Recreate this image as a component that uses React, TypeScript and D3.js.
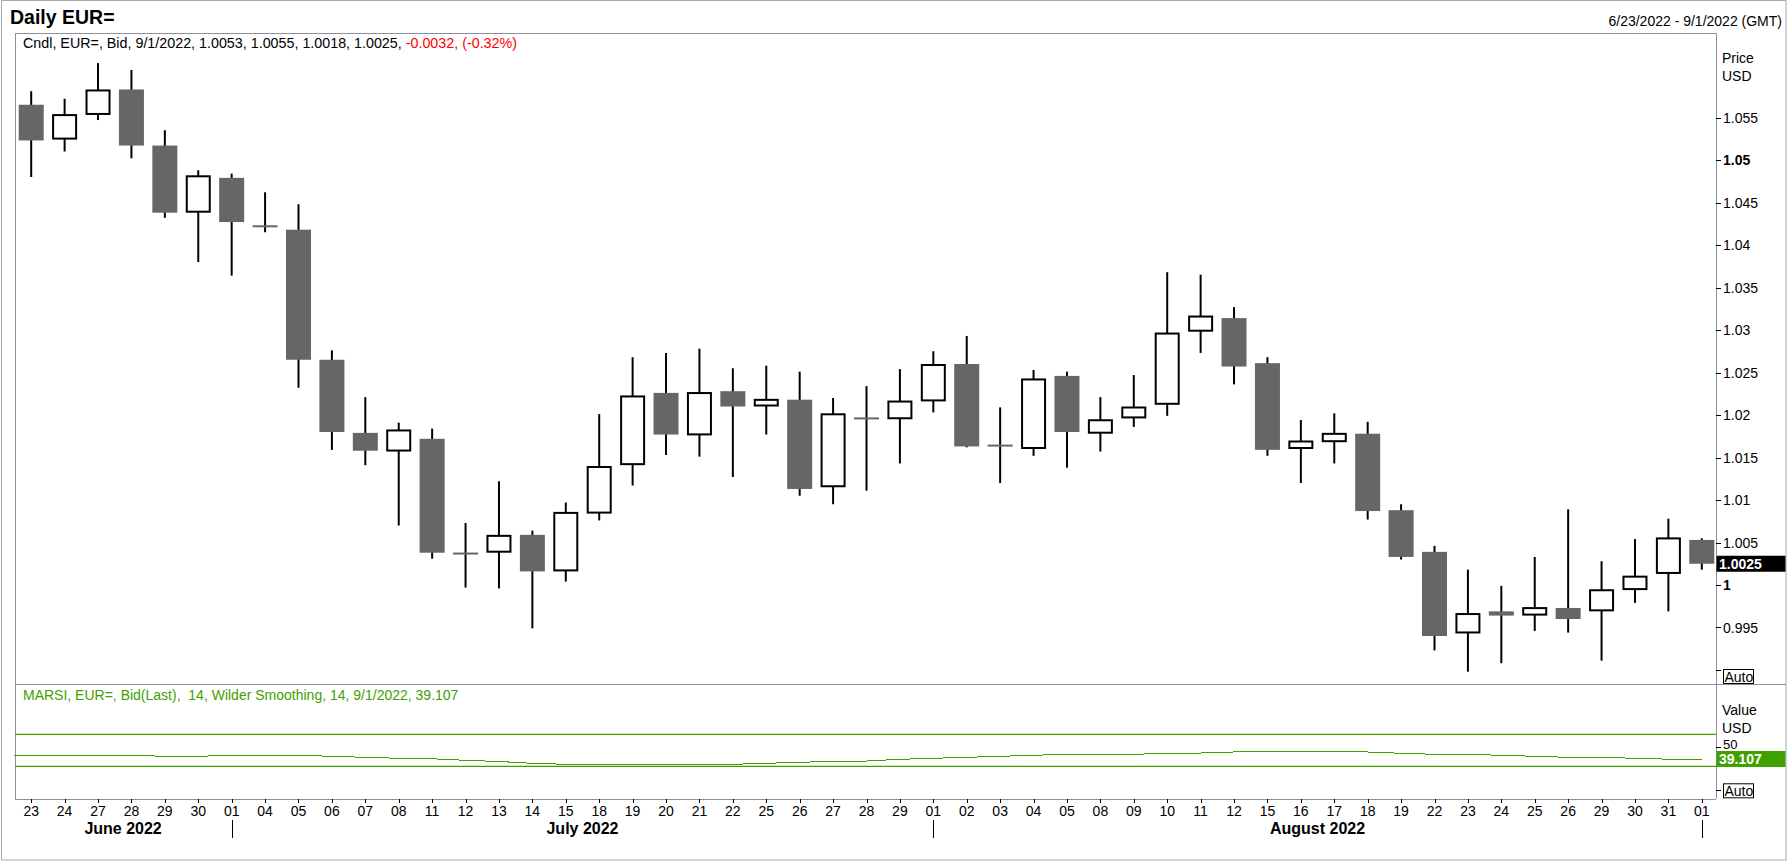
import React from "react";
import * as d3 from "d3";

const dayLabels = ["23","24","27","28","29","30","01","04","05","06","07","08","11","12","13","14","15","18","19","20","21","22","25","26","27","28","29","01","02","03","04","05","08","09","10","11","12","15","16","17","18","19","22","23","24","25","26","29","30","31","01"];
const monthLabels = ["June 2022", "July 2022", "August 2022"];

const opens = [1.0565,1.0524,1.0553,1.0583,1.0517,1.0438,1.0479,1.0422,1.0418,1.0265,1.0179,1.0157,1.0172,1.0037,1.0038,1.0059,1.0016,1.0084,1.0141,1.0226,1.0176,1.0228,1.0210,1.0218,1.0115,1.0196,1.0195,1.0216,1.0260,1.0164,1.0160,1.0246,1.0178,1.0196,1.0212,1.0298,1.0314,1.0261,1.0160,1.0168,1.0178,1.0088,1.0039,0.9943,0.9969,0.9964,0.9973,0.9969,0.9994,1.0013,1.0053];
const highs = [1.0581,1.0572,1.0614,1.0606,1.0535,1.0488,1.0484,1.0462,1.0448,1.0276,1.0221,1.0191,1.0184,1.0073,1.0122,1.0064,1.0097,1.0201,1.0268,1.0273,1.0278,1.0255,1.0258,1.0251,1.0220,1.0234,1.0254,1.0275,1.0293,1.0209,1.0253,1.0251,1.0221,1.0247,1.0368,1.0365,1.0327,1.0268,1.0194,1.0202,1.0192,1.0095,1.0046,1.0018,0.9999,1.0033,1.0089,1.0028,1.0054,1.0078,1.0055];
const lows = [1.0480,1.0510,1.0547,1.0502,1.0432,1.0380,1.0364,1.0415,1.0232,1.0159,1.0141,1.0070,1.0031,0.9997,0.9996,0.9949,1.0004,1.0076,1.0117,1.0153,1.0151,1.0127,1.0177,1.0105,1.0095,1.0111,1.0143,1.0203,1.0162,1.0120,1.0152,1.0138,1.0157,1.0186,1.0199,1.0273,1.0236,1.0152,1.0120,1.0143,1.0077,1.0030,0.9923,0.9898,0.9908,0.9946,0.9944,0.9911,0.9979,0.9969,1.0018];
const closes = [1.0523,1.0554,1.0583,1.0517,1.0438,1.0482,1.0427,1.0422,1.0265,1.0180,1.0158,1.0183,1.0038,1.0037,1.0059,1.0016,1.0086,1.0140,1.0223,1.0177,1.0227,1.0210,1.0219,1.0113,1.0202,1.0196,1.0217,1.0260,1.0163,1.0164,1.0243,1.0180,1.0195,1.0210,1.0297,1.0317,1.0257,1.0159,1.0170,1.0179,1.0087,1.0033,0.9940,0.9967,0.9964,0.9974,0.9960,0.9995,1.0011,1.0056,1.0025];
const rsiValues = [43.75,43.75,43.75,43.75,42.5,42.5,43.75,43.75,43.75,42.5,41.25,40,39.4,37.5,36,33.75,32.5,32.5,32.5,32.5,32.5,32.5,33.75,35,36.25,36.6,38.75,40,41.25,42.5,43.75,45,45,45,46.25,46.6,47.9,47.9,47.9,47.9,47.9,46.25,45,45,43.75,42.5,41.25,41.25,40,38.9,39.107];

const priceTickValues = [0.995,1,1.005,1.01,1.015,1.02,1.025,1.03,1.035,1.04,1.045,1.05,1.055];
const rsiLevels = [70, 30];
const lastPrice = 1.0025;
const lastRsi = 39.107;

const FONT = "'Liberation Sans', Arial, Helvetica, sans-serif";
const GREEN = "#3fa000";
const PANEL = "#8e8e9e";

export default function App() {
  const W = 1788, H = 862;
  const panelL = 15, panelR = 1716, priceTop = 33, priceBot = 684, rsiBot = 799;
  const n = dayLabels.length;
  const x = d3.scaleLinear().domain([0, n - 1]).range([31.2, 1701.8]);
  const y = d3.scaleLinear().domain([0.99, 1.065]).range([670, 32.5]);
  const yr = d3.scaleLinear().domain([0, 100]).range([790.3, 710.3]);
  const bodyW = 25;

  const sepIdx = dayLabels.map((d, i) => (d === "01" ? i : -1)).filter((i) => i >= 0);
  const starts = [-0.5, ...sepIdx];
  const months = monthLabels.map((m, k) => ({ label: m, center: (starts[k] + sepIdx[k]) / 2 }));

  const rsiPts: [number, number][] = [[-0.5, rsiValues[0]], ...rsiValues.map((v, i) => [i, v] as [number, number])];
  const rsiPath = d3.line<[number, number]>().x((d) => x(d[0])).y((d) => yr(d[1]))(rsiPts) || "";

  const fmt = (v: number) => String(+v.toFixed(3));
  const isMajor = (v: number) => Math.abs(v * 20 - Math.round(v * 20)) < 1e-9;
  const boxTop = yr(lastRsi) - 8;

  return (
    <svg width={W} height={H} style={{ position: "absolute", left: 0, top: 0, fontFamily: FONT }}>
      <defs>
        <clipPath id="pclip"><rect x={panelL} y={priceTop} width={panelR - panelL} height={priceBot - priceTop} /></clipPath>
      </defs>
      <rect x={0} y={0} width={W} height={H} fill="#fff" />
      <rect x={1.5} y={0.5} width={1784.5} height={859.5} fill="none" stroke="#a8a8a8" />

      <text x={10} y={24} fontSize={19.5} fontWeight="bold" fill="#000">Daily EUR=</text>
      <text x={1782} y={26} fontSize={14} textAnchor="end" fill="#000">6/23/2022 - 9/1/2022 (GMT)</text>

      {/* panels */}
      <line x1={panelL} x2={panelR} y1={priceTop + 0.5} y2={priceTop + 0.5} stroke={PANEL} />
      <line x1={panelL + 0.5} x2={panelL + 0.5} y1={priceTop} y2={rsiBot} stroke={PANEL} />
      <line x1={panelR + 0.5} x2={panelR + 0.5} y1={priceTop} y2={rsiBot} stroke={PANEL} />
      <line x1={panelL} x2={1786} y1={priceBot + 0.5} y2={priceBot + 0.5} stroke={PANEL} />
      <line x1={panelL} x2={panelR} y1={rsiBot + 0.5} y2={rsiBot + 0.5} stroke={PANEL} />

      <text x={23} y={48} fontSize={14.3} fill="#000">
        Cndl, EUR=, Bid, 9/1/2022, 1.0053, 1.0055, 1.0018, 1.0025, <tspan fill="#ff0000">-0.0032, (-0.32%)</tspan>
      </text>

      {/* candles */}
      <g clipPath="url(#pclip)">
        {dayLabels.map((_, i) => {
          const cx = x(i);
          const o = opens[i], c = closes[i], h = highs[i], l = lows[i];
          let body: React.ReactNode;
          if (Math.abs(o - c) < 1e-7) {
            body = <line x1={cx - bodyW / 2} x2={cx + bodyW / 2} y1={y(o)} y2={y(o)} stroke="#666" strokeWidth={2} />;
          } else if (c < o) {
            body = <rect x={cx - bodyW / 2} y={y(o)} width={bodyW} height={y(c) - y(o)} fill="#666" />;
          } else {
            body = <rect x={cx - bodyW / 2 + 1} y={y(c) + 1} width={bodyW - 2} height={Math.max(1, y(o) - y(c) - 2)} fill="#fff" stroke="#000" strokeWidth={2} />;
          }
          return (
            <g key={i}>
              <line x1={cx} x2={cx} y1={y(h)} y2={y(l)} stroke="#000" strokeWidth={2} />
              {body}
            </g>
          );
        })}
      </g>

      {/* price axis */}
      <text x={1722} y={63} fontSize={14} fill="#000">Price</text>
      <text x={1722} y={81} fontSize={14} fill="#000">USD</text>
      {priceTickValues.map((v) => (
        <g key={v}>
          <line x1={panelR} x2={panelR + 5} y1={Math.round(y(v)) + 0.5} y2={Math.round(y(v)) + 0.5} stroke="#000" />
          <text x={1723} y={y(v) + 5} fontSize={14} fontWeight={isMajor(v) ? "bold" : "normal"} fill="#000">{fmt(v)}</text>
        </g>
      ))}
      <line x1={panelR} x2={panelR + 5} y1={Math.round(y(0.99)) + 0.5} y2={Math.round(y(0.99)) + 0.5} stroke="#000" />
      <rect x={1723.5} y={y(0.99) - 0.5} width={30} height={14} fill="#fff" stroke="#000" />
      <text x={1724.5} y={y(0.99) + 11.5} fontSize={14} fill="#000">Auto</text>
      <rect x={panelR + 0.5} y={y(lastPrice) - 8} width={69} height={16} fill="#000" />
      <text x={1719} y={y(lastPrice) + 5} fontSize={14} fontWeight="bold" fill="#fff">{lastPrice.toFixed(4)}</text>

      {/* RSI panel */}
      <text x={23} y={700} fontSize={14} fill={GREEN} style={{ whiteSpace: "pre" }}>MARSI, EUR=, Bid(Last),  14, Wilder Smoothing, 14, 9/1/2022, 39.107</text>
      {rsiLevels.map((lv) => (
        <line key={lv} x1={panelL} x2={panelR} y1={yr(lv)} y2={yr(lv)} stroke={GREEN} strokeWidth={1.3} />
      ))}
      <path d={rsiPath} fill="none" stroke={GREEN} strokeWidth={1} shapeRendering="crispEdges" />
      <text x={1722} y={715} fontSize={14} fill="#000">Value</text>
      <text x={1722} y={733} fontSize={14} fill="#000">USD</text>
      <line x1={panelR} x2={panelR + 5} y1={Math.round(yr(50)) - 2.5} y2={Math.round(yr(50)) - 2.5} stroke="#000" />
      <text x={1723} y={boxTop - 2.5} fontSize={13} fill="#000">50</text>
      <rect x={panelR + 0.5} y={boxTop} width={69} height={16} fill={GREEN} />
      <text x={1719} y={yr(lastRsi) + 5} fontSize={14} fontWeight="bold" fill="#fff">{lastRsi.toFixed(3)}</text>
      <line x1={panelR} x2={panelR + 5} y1={Math.round(yr(0)) + 0.5} y2={Math.round(yr(0)) + 0.5} stroke="#000" />
      <rect x={1723.5} y={yr(0) - 6.5} width={30} height={14} fill="#fff" stroke="#000" />
      <text x={1724.5} y={yr(0) + 5.5} fontSize={14} fill="#000">Auto</text>

      {/* x axis */}
      {dayLabels.map((d, i) => (
        <g key={"x" + i}>
          <line x1={Math.round(x(i)) + 0.5} x2={Math.round(x(i)) + 0.5} y1={rsiBot} y2={rsiBot + 4} stroke="#000" />
          <text x={x(i)} y={816} fontSize={14} textAnchor="middle" fill="#000">{d}</text>
        </g>
      ))}
      {sepIdx.map((i) => (
        <line key={"s" + i} x1={Math.round(x(i)) + 0.5} x2={Math.round(x(i)) + 0.5} y1={820} y2={838} stroke="#000" />
      ))}
      {months.map((m) => (
        <text key={m.label} x={x(m.center)} y={834} fontSize={16} fontWeight="bold" textAnchor="middle" fill="#000">{m.label}</text>
      ))}
    </svg>
  );
}
